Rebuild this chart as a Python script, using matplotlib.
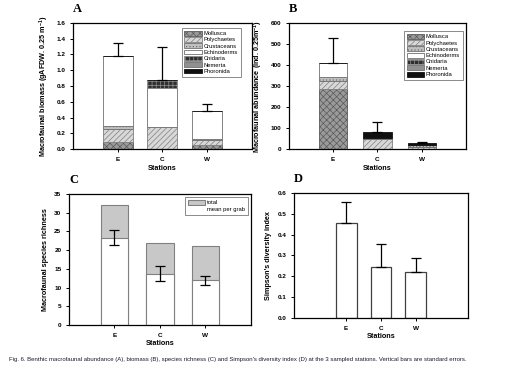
import numpy as np
import matplotlib
matplotlib.use('Agg')
import matplotlib.pyplot as plt

plt.rcParams['font.family'] = ['Liberation Sans', 'DejaVu Sans']
plt.rcParams['hatch.linewidth'] = 0.5
plt.rcParams['mathtext.fontset'] = 'custom'
plt.rcParams['mathtext.bf'] = 'Liberation Sans:bold'
plt.rcParams['mathtext.rm'] = 'Liberation Sans:bold'
plt.rcParams['mathtext.default'] = 'bf'

stations = ['E', 'C', 'W']
taxa = ['Mollusca', 'Polychaetes', 'Crustaceans', 'Echinoderms', 'Cnidaria', 'Nemerta', 'Phoronida']

# A: biomass (gAFDW 0.25 m-1), stacked per taxon
bio_mollusca = [0.09, 0.00, 0.05]
bio_polychaetes = [0.16, 0.28, 0.06]
bio_crustaceans = [0.04, 0.00, 0.02]
bio_echinoderms = [0.89, 0.50, 0.35]
bio_cnidaria = [0.00, 0.10, 0.00]
bio_nemerta = [0.00, 0.00, 0.00]
bio_phoronida = [0.00, 0.00, 0.00]
bio_err = [0.17, 0.41, 0.09]

# B: abundance (ind. 0.25 m-1)
ab_mollusca = [285, 0, 0]
ab_polychaetes = [38, 48, 12]
ab_crustaceans = [20, 0, 6]
ab_echinoderms = [65, 0, 0]
ab_cnidaria = [0, 0, 0]
ab_nemerta = [0, 7, 0]
ab_phoronida = [0, 25, 10]
ab_err = [120, 48, 5]

# C: species richness
rich_total = [32, 22, 21]
rich_mean = [23.3, 13.7, 12.0]
rich_err = [2.0, 2.0, 1.2]

# D: Simpson's diversity index
simpson = [0.455, 0.243, 0.220]
simpson_err = [0.100, 0.110, 0.066]

caption = ("Fig. 6. Benthic macrofaunal abundance (A), biomass (B), species richness (C) and "
           "Simpson's diversity index (D) at the 3 sampled stations. Vertical bars are standard errors.")

# style per taxon: facecolor, hatch, hatch/edge colour
styles = {
    'Mollusca': ('#9a9a9a', 'xxxxx', '#5a5a5a'),
    'Polychaetes': ('#d8d8d8', '//////', '#808080'),
    'Crustaceans': ('#c0c0c0', '.....', '#707070'),
    'Echinoderms': ('white', None, '#707070'),
    'Cnidaria': ('#303030', '++++', '#909090'),
    'Nemerta': ('#909090', None, '#707070'),
    'Phoronida': ('#101010', None, '#101010'),
}

fig = plt.figure(figsize=(5.16, 3.70), dpi=100)
axA = fig.add_axes([0.1415, 0.597, 0.3465, 0.341])
axB = fig.add_axes([0.560, 0.597, 0.343, 0.341])
axC = fig.add_axes([0.1337, 0.1216, 0.3527, 0.354])
axD = fig.add_axes([0.5698, 0.1405, 0.3372, 0.338])

x = np.arange(1, 4)
fs_tick = 4.6
fs_lab = 5.2
cap = 3.5


def style_axes(ax, ylim, yticks, fmt, ylabel, xlim=(0, 4)):
    ax.set_xlim(*xlim)
    ax.set_ylim(*ylim)
    ax.set_yticks(yticks)
    ax.set_yticklabels([fmt.format(v) for v in yticks], fontsize=fs_tick, fontweight='bold')
    ax.set_xticks(x)
    ax.set_xticklabels(stations, fontsize=fs_tick, fontweight='bold')
    ax.tick_params(direction='out', length=2.5, width=0.7, pad=3, top=False, right=False)
    for s in ax.spines.values():
        s.set_linewidth(0.9)
    ax.set_ylabel(ylabel, fontsize=fs_lab, fontweight='bold', labelpad=4)
    ax.set_xlabel('Stations', fontsize=fs_lab, fontweight='bold', labelpad=2)


def stacked(ax, layers, err, w):
    bottom = np.zeros(3)
    for name, vals in zip(taxa, layers):
        fc, hatch, ec = styles[name]
        ax.bar(x, vals, w, bottom=bottom, color=fc, hatch=hatch, edgecolor=ec,
               linewidth=0.6, label=name)
        bottom = bottom + np.array(vals)
    ax.errorbar(x, bottom, yerr=[np.zeros(3), err], fmt='none', ecolor='black',
                elinewidth=0.9, capsize=cap, capthick=0.9)


def legend(ax, **kw):
    lg = ax.legend(loc='upper right', fontsize=4.2, frameon=True, fancybox=False,
                   edgecolor='#555555', handlelength=3.0, handleheight=0.9,
                   labelspacing=0.15, borderpad=0.5, handletextpad=0.3, **kw)
    lg.get_frame().set_linewidth(0.6)
    return lg


stacked(axA, [bio_mollusca, bio_polychaetes, bio_crustaceans, bio_echinoderms,
              bio_cnidaria, bio_nemerta, bio_phoronida], bio_err, 0.67)
style_axes(axA, (0, 1.6), np.arange(0, 1.61, 0.2), '{:.1f}',
           'Macrofaunal biomass (gAFDW. 0.25 m$^{-1}$)')
legend(axA, bbox_to_anchor=(0.955, 0.985))

stacked(axB, [ab_mollusca, ab_polychaetes, ab_crustaceans, ab_echinoderms,
              ab_cnidaria, ab_nemerta, ab_phoronida], ab_err, 0.64)
style_axes(axB, (0, 600), np.arange(0, 601, 100), '{:d}',
           'Macrofaunal abundance (ind. 0.25m$^{-1}$)')
legend(axB, bbox_to_anchor=(1.0, 0.96))

# C
axC.bar(x, rich_total, 0.6, color='#c8c8c8', edgecolor='#808080', linewidth=0.8, label='total')
axC.bar(x, rich_mean, 0.6, color='white', edgecolor='#808080', linewidth=0.8)
axC.bar([0], [0], color='white', edgecolor='none', label='mean per grab')
axC.errorbar(x, rich_mean, yerr=rich_err, fmt='none', ecolor='black', elinewidth=0.9,
             capsize=cap, capthick=0.9)
style_axes(axC, (0, 35), np.arange(0, 36, 5), '{:d}', 'Macrofaunal species richness')
legend(axC)

# D
axD.bar(x, simpson, 0.6, color='white', edgecolor='#404040', linewidth=0.9)
axD.errorbar(x, simpson, yerr=[np.zeros(3), simpson_err], fmt='none', ecolor='black',
             elinewidth=0.9, capsize=cap, capthick=0.9)
style_axes(axD, (0, 0.6), np.arange(0, 0.61, 0.1), '{:.1f}', "Simpson's diversity index",
           xlim=(-0.5, 4.5))

for ax, lab in [(axA, 'A'), (axB, 'B'), (axC, 'C'), (axD, 'D')]:
    ax.text(0.0, 1.06, lab, transform=ax.transAxes, fontsize=9, fontweight='bold',
            family='Liberation Serif', ha='left', va='bottom')

fig.text(0.018, 0.022, caption, fontsize=4.3, color='#1a1a2a', ha='left', va='bottom')

fig.savefig('out.png', dpi=100)
